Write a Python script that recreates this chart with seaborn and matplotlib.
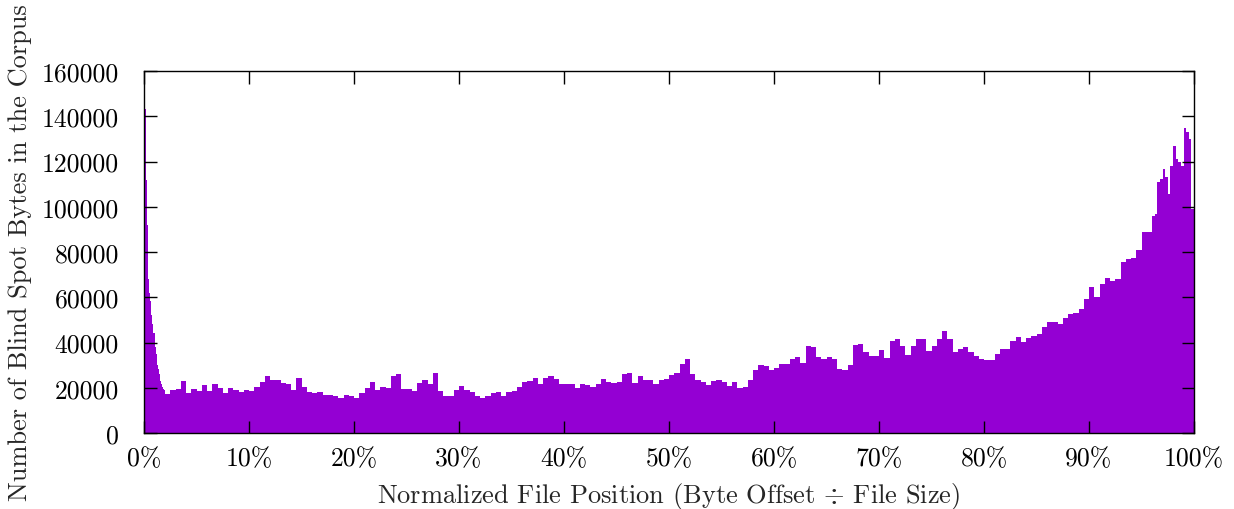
import numpy as np
import pandas as pd
import matplotlib
matplotlib.use("Agg")
import matplotlib.pyplot as plt
import seaborn as sns

# Blind-spot byte counts (thousands) per file-position bin (percent of file size)
# 0% - 2%, narrow bins
head_counts = [143, 112, 92, 76, 68, 62, 58.5, 52, 48, 44,
               38, 35, 30, 28.5, 26, 23, 21.7, 20.5, 19.4, 19]
# 2% - 96%, 0.5% wide bins
mid_counts = [
    17.2, 19, 19.5, 23, 17.5, 19.5, 18.5, 21, 18.5, 21.5,   # 2.0 - 6.5
    20, 17.5, 20, 19, 18, 19, 18.5, 20.5, 22.5, 25,          # 7.0 - 11.5
    23.5, 23.5, 22, 21.5, 19, 24.5, 20.5, 18.2, 17.5, 18.3,  # 12.0 - 16.5
    17, 16.8, 16.5, 15.5, 17, 16.5, 15.5, 17.5, 20, 22.5,    # 17.0 - 21.5
    19, 20.5, 20, 25, 26, 19.5, 19.3, 18.5, 22, 23.5,        # 22.0 - 26.5
    21.5, 26.5, 18.5, 16.5, 16.5, 19, 20.8, 19, 18, 16.5,    # 27.0 - 31.5
    15.5, 16.5, 17.5, 18.3, 16.3, 18, 18.5, 20.3, 22.6, 22.8,  # 32.0 - 36.5
    24.5, 21.5, 24.5, 25.2, 24, 21.5, 21.5, 21.5, 19.8, 21.6,  # 37.0 - 41.5
    21, 20.5, 21.5, 24, 22.5, 22.2, 22.5, 26, 26.5, 22,      # 42.0 - 46.5
    25, 23.5, 23.5, 21.5, 23.5, 24, 25.5, 26.5, 30.5, 32.5,  # 47.0 - 51.5
    26, 23.3, 22.4, 21, 23.2, 23.3, 22.5, 20.6, 22.6, 20,    # 52.0 - 56.5
    20.3, 23.5, 28, 30, 29.5, 28, 28.8, 30.5, 30.5, 32.5,    # 57.0 - 61.5
    33.5, 31, 38.5, 38, 33.5, 32.7, 33.5, 32.5, 28.5, 28,    # 62.0 - 66.5
    30, 39, 39.5, 36, 34.2, 34, 36.5, 33, 40.5, 41.5,        # 67.0 - 71.5
    38.5, 34.5, 38.5, 41.5, 41.5, 36.4, 38.6, 41.5, 45.2, 41.5,  # 72.0 - 76.5
    35.6, 37.1, 37.8, 35.6, 34.2, 32.7, 32.4, 32.2, 34.9, 37.1,  # 77.0 - 81.5
    37.1, 40.8, 42.3, 40.1, 41.9, 43, 43.8, 46.8, 49, 49,    # 82.0 - 86.5
    48, 51, 52.5, 53.2, 55, 59.3, 64.5, 60, 65.9, 68.4,      # 87.0 - 91.5
    67, 68.1, 75.5, 77, 77.3, 80.7, 88.7, 88.7,              # 92.0 - 95.5
]
# 96% - 100%, 0.25% wide bins
tail_counts = [96, 96.8, 110.9, 112.4, 116.5, 113, 105.6, 118,
               127, 121, 119.7, 118.2, 135, 133, 130, 99]

x_ticks = [0, 10, 20, 30, 40, 50, 60, 70, 80, 90, 100]
x_tick_labels = [f"{t}%" for t in x_ticks]
y_ticks = [0, 20000, 40000, 60000, 80000, 100000, 120000, 140000, 160000]
y_tick_labels = [str(t) for t in y_ticks]

# bin edges (percent)
head_edges = [0.0, 0.2, 0.27, 0.34, 0.4] + [round(v, 4) for v in np.arange(0.5, 2.0001, 0.1)]
mid_edges = [round(v, 4) for v in np.arange(2.5, 96.0001, 0.5)]
tail_edges = [round(v, 4) for v in np.arange(96.25, 100.0001, 0.25)]
edges = [float(e) for e in head_edges + mid_edges + tail_edges]
counts = np.array(head_counts + mid_counts + tail_counts, dtype=float) * 1000.0
centers = (np.array(edges[:-1]) + np.array(edges[1:])) / 2.0
df = pd.DataFrame({"position": centers, "count": counts})

sns.set_style("ticks")
plt.rcParams["font.family"] = ["cmr10", "DejaVu Serif"]
plt.rcParams["mathtext.fontset"] = "cm"
plt.rcParams["axes.formatter.use_mathtext"] = True

fig = plt.figure(figsize=(12.34, 5.10), dpi=100)
ax = fig.add_axes([144 / 1234, 76 / 510, 1050 / 1234, 362 / 510])

sns.histplot(data=df, x="position", weights="count", bins=edges,
             stat="count", element="step", fill=True, color="#9400D3",
             alpha=1.0, linewidth=0, ax=ax)

ax.set_xlim(0, 100)
ax.set_ylim(0, 160000)
ax.set_xticks(x_ticks)
ax.set_xticklabels(x_tick_labels)
ax.set_yticks(y_ticks)
ax.set_yticklabels(y_tick_labels)
ax.tick_params(axis="both", direction="in", length=9, width=1.0,
               top=True, right=True, labelsize=18.5, colors="black")
ax.tick_params(axis="x", pad=10)
ax.tick_params(axis="y", pad=18)
for s in ax.spines.values():
    s.set_visible(True)
    s.set_linewidth(1.0)
    s.set_color("black")
ax.set_axisbelow(False)

ax.set_xlabel(r"Normalized File Position (Byte Offset $\div$ File Size)",
              fontsize=19, labelpad=7)
ax.set_ylabel("Number of Blind Spot Bytes in the Corpus", fontsize=19,
              labelpad=7)

fig.savefig("out.png", dpi=100)
